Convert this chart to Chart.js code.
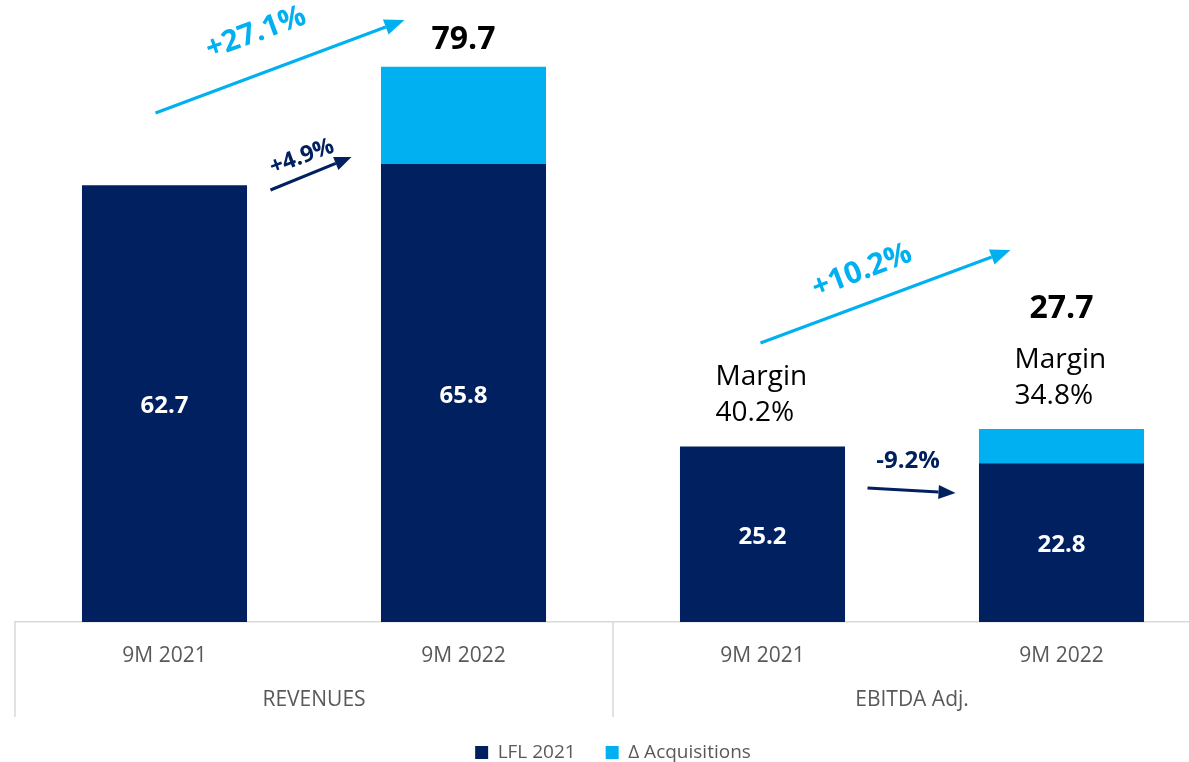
<!DOCTYPE html>
<html>
<head>
<meta charset="utf-8">
<script src="https://cdn.jsdelivr.net/npm/chart.js@4/dist/chart.umd.min.js"></script>
<style>
  html, body { margin: 0; padding: 0; background: #fff; overflow: hidden; }
  #wrap { width: 1189px; height: 762px; overflow: hidden; position: relative; }
  canvas { display: block; }
</style>
</head>
<body>
<div id="wrap"><canvas id="chart" width="1211" height="772"></canvas></div>
<script>
  // datos
  const categories = ['9M 2021', '9M 2022', '9M 2021', '9M 2022'];
  const groups = ['REVENUES', 'EBITDA Adj.'];
  const lfl2021 = [62.7, 65.8, 25.2, 22.8];
  const acquisitions = [0, 13.9, 0, 4.9];
  const totals = [null, 79.7, null, 27.7];
  const margins = [null, null, '40.2%', '34.8%'];
  const growthLabels = ['+27.1%', '+4.9%', '+10.2%', '-9.2%'];

  const NAVY = '#002060';
  const CYAN = '#00B0F0';
  const GREY = '#595959';
  const FONT = '"Open Sans", sans-serif';

  function arrow(ctx, x1, y1, x2, y2, color, w, head, half) {
    const a = Math.atan2(y2 - y1, x2 - x1);
    const bx = x2 - Math.cos(a) * head, by = y2 - Math.sin(a) * head;
    ctx.save();
    ctx.strokeStyle = color; ctx.fillStyle = color; ctx.lineWidth = w;
    ctx.beginPath(); ctx.moveTo(x1, y1); ctx.lineTo(bx, by); ctx.stroke();
    ctx.beginPath();
    ctx.moveTo(x2, y2);
    ctx.lineTo(bx + Math.sin(a) * half, by - Math.cos(a) * half);
    ctx.lineTo(bx - Math.sin(a) * half, by + Math.cos(a) * half);
    ctx.closePath(); ctx.fill();
    ctx.restore();
  }

  function rotText(ctx, txt, x, y, deg, font, color) {
    ctx.save();
    ctx.translate(x, y); ctx.rotate(deg * Math.PI / 180);
    ctx.font = font; ctx.fillStyle = color;
    ctx.textAlign = 'center'; ctx.textBaseline = 'middle';
    ctx.fillText(txt, 0, 0);
    ctx.restore();
  }

  const decoPlugin = {
    id: 'deco',
    afterDatasetsDraw(chart) {
      const { ctx, chartArea, scales: { x, y } } = chart;
      const meta0 = chart.getDatasetMeta(0);
      const c = categories.map((_, i) => x.getPixelForValue(i));

      // valores dentro de las barras
      ctx.save();
      ctx.font = 'bold 24px ' + FONT;
      ctx.fillStyle = '#fff';
      ctx.textAlign = 'center'; ctx.textBaseline = 'middle';
      meta0.data.forEach((bar, i) => {
        ctx.fillText(lfl2021[i].toFixed(1), bar.x, (bar.y + bar.base) / 2 + 3);
      });

      // totales
      ctx.font = 'bold 32px ' + FONT;
      ctx.fillStyle = '#000';
      totals.forEach((t, i) => {
        if (t == null) return;
        const off = margins[i] ? 120 : 27;
        ctx.fillText(t.toFixed(1), c[i], y.getPixelForValue(t) - off);
      });

      // margen
      ctx.font = '28px ' + FONT;
      ctx.textAlign = 'left';
      margins.forEach((m, i) => {
        if (!m) return;
        const top = y.getPixelForValue(lfl2021[i] + acquisitions[i]);
        ctx.fillText('Margin', c[i] - 47, top - 69);
        ctx.fillText(m, c[i] - 47, top - 33);
      });
      ctx.restore();

      // flechas de crecimiento
      arrow(ctx, c[0] - 9, 113, c[1] - 59, 20, CYAN, 3, 20, 8);
      rotText(ctx, growthLabels[0], 256, 33, -20, 'bold 30px ' + FONT, CYAN);

      arrow(ctx, c[0] + 106, 190, c[1] - 112, 157, NAVY, 3, 17, 7);
      rotText(ctx, growthLabels[1], 302, 157, -20, 'bold 23px ' + FONT, NAVY);

      arrow(ctx, c[2] - 2, 343, c[3] - 51, 250, CYAN, 3, 20, 8);
      rotText(ctx, growthLabels[2], 862, 271, -21, 'bold 30px ' + FONT, CYAN);

      arrow(ctx, c[2] + 105, 488, c[3] - 106, 493, NAVY, 3, 17, 7);
      rotText(ctx, growthLabels[3], (c[2] + c[3]) / 2 - 4, 461, 0, 'bold 24px ' + FONT, NAVY);

      // separadores del eje y etiquetas de grupo
      const bottom = chartArea.bottom;
      const seps = [chartArea.left, (c[1] + c[2]) / 2, chartArea.right];
      ctx.save();
      ctx.strokeStyle = '#d9d9d9'; ctx.lineWidth = 1.5;
      seps.forEach(sx => {
        ctx.beginPath(); ctx.moveTo(sx, bottom); ctx.lineTo(sx, bottom + 95); ctx.stroke();
      });
      ctx.font = '21px ' + FONT;
      ctx.fillStyle = GREY;
      ctx.textAlign = 'center'; ctx.textBaseline = 'middle';
      groups.forEach((g, gi) => {
        ctx.fillText(g, (c[gi * 2] + c[gi * 2 + 1]) / 2, bottom + 78);
      });
      ctx.restore();
    }
  };

  new Chart(document.getElementById('chart'), {
    type: 'bar',
    data: {
      labels: categories,
      datasets: [
        { label: 'LFL 2021', data: lfl2021, backgroundColor: NAVY, borderWidth: 0 },
        { label: 'Δ Acquisitions', data: acquisitions, backgroundColor: CYAN, borderWidth: 0 }
      ]
    },
    options: {
      responsive: false,
      animation: false,
      layout: { padding: { left: 15, top: 0, right: 0, bottom: 0 } },
      datasets: { bar: { categoryPercentage: 1, barPercentage: 0.552 } },
      scales: {
        x: {
          stacked: true,
          grid: { display: false, drawTicks: false },
          border: { color: '#d9d9d9', width: 1.5 },
          ticks: { color: GREY, font: { family: FONT, size: 21 }, padding: 21 },
          afterFit: (s) => { s.height = 91; }
        },
        y: { stacked: true, display: false, min: 0, max: 89.3 }
      },
      plugins: {
        legend: {
          position: 'bottom',
          labels: {
            boxWidth: 13, boxHeight: 13, padding: 30,
            color: GREY, font: { family: FONT, size: 19 }
          }
        },
        tooltip: { enabled: false }
      }
    },
    plugins: [decoPlugin]
  });
</script>
</body>
</html>
